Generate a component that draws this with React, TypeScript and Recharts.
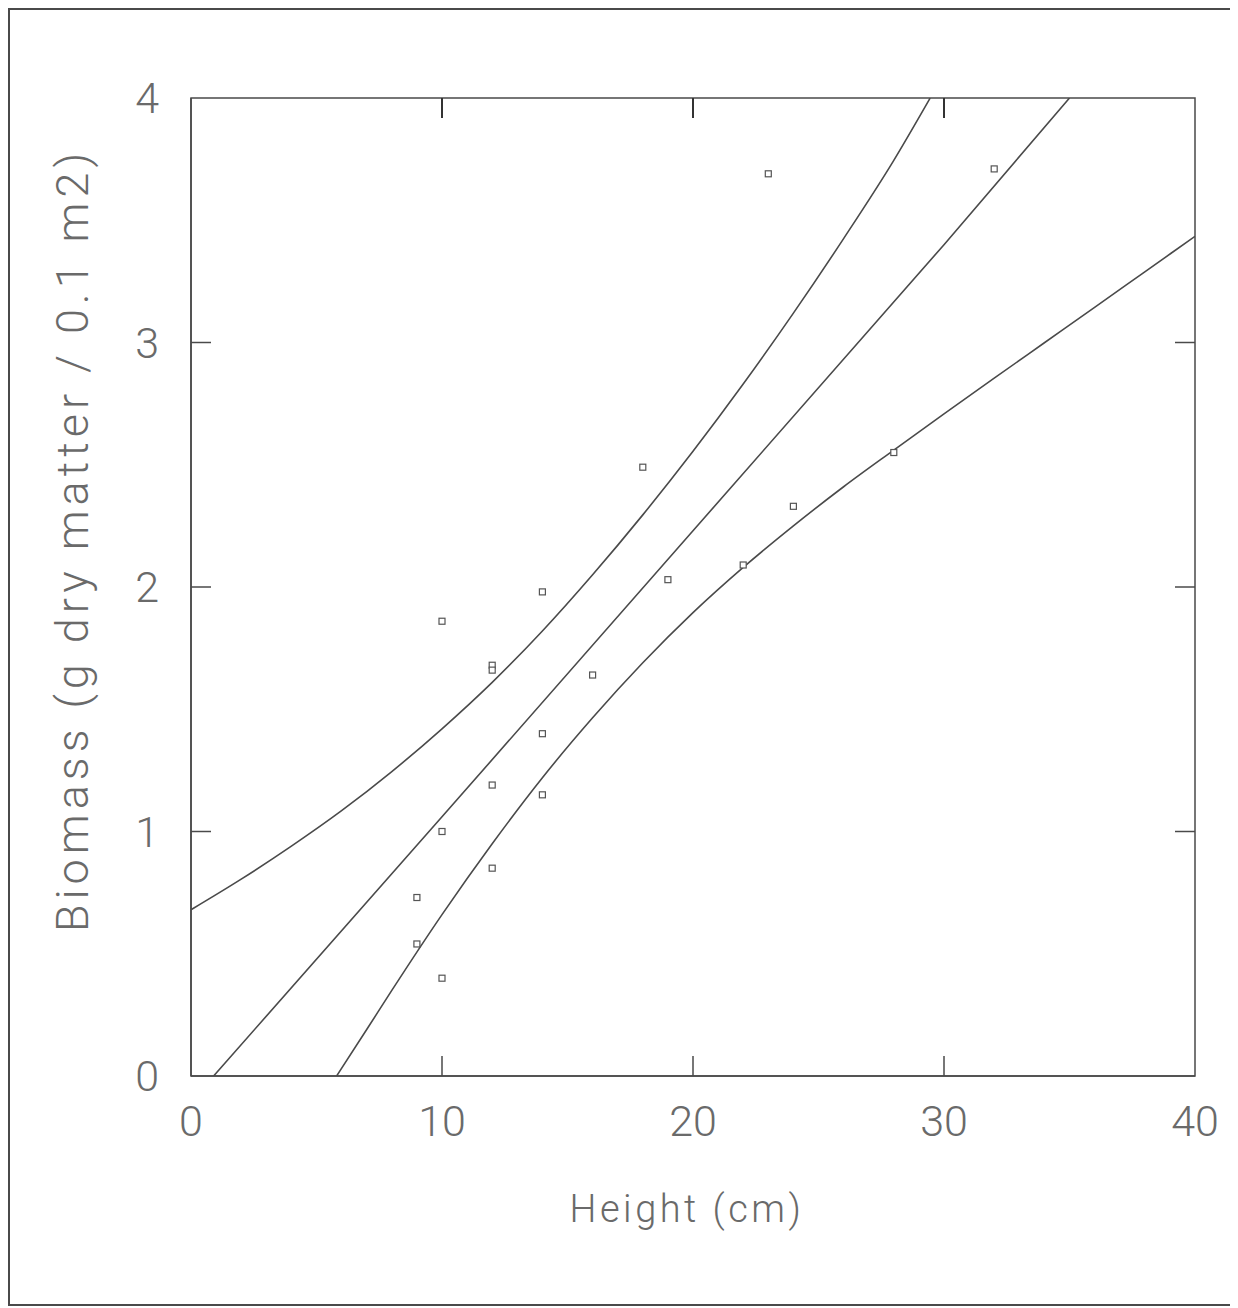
import { ScatterChart, Scatter, XAxis, YAxis, Label, ReferenceArea, ReferenceLine } from 'recharts';

// observed plots: height (cm) vs biomass (g dry matter / 0.1 m2)
const heights = [9, 9, 10, 10, 10, 12, 12, 12, 12, 14, 14, 14, 16, 18, 19, 22, 23, 24, 28, 32];
const biomass = [0.73, 0.54, 1.86, 1.0, 0.4, 1.68, 1.66, 1.19, 0.85, 1.98, 1.4, 1.15, 1.64, 2.49, 2.03, 2.09, 3.69, 2.33, 2.55, 3.71];

// fitted line
const fitX = [0.9, 10, 20, 30, 35];
const fitY = [0, 1.06, 2.23, 3.4, 4.0];

// upper band
const upperX = [0, 2, 4, 6, 8, 10, 12, 14, 16, 18, 20, 22, 24, 26, 28, 29.45];
const upperY = [0.68, 0.805, 0.94, 1.085, 1.245, 1.42, 1.61, 1.82, 2.05, 2.295, 2.555, 2.83, 3.12, 3.425, 3.745, 4.0];

// lower band
const lowerX = [5.8, 7, 8, 10, 12, 14, 16, 18, 20, 22, 24, 26, 28, 30, 32, 34, 36, 38, 40];
const lowerY = [0, 0.19, 0.35, 0.66, 0.95, 1.22, 1.465, 1.69, 1.895, 2.08, 2.25, 2.41, 2.56, 2.708, 2.854, 2.999, 3.144, 3.289, 3.434];

const xTicks = [0, 10, 20, 30, 40];
const yTicks = [0, 1, 2, 3, 4];
const innerXTicks = [10, 20, 30];

const toPts = (xs: number[], ys: number[]) => xs.map((x, i) => ({ x, y: ys[i] }));

const INK = '#4a4a4a';
const TEXT = '#6a6a6a';
const FONT = "Roboto, 'Open Sans', sans-serif";
const TICK_LEN = 20;

const BottomTick = (props: any) => {
  const { x, y, payload } = props;
  const v = payload.value;
  return (
    <g>
      {v > 0 && v < 40 && <line x1={x} y1={y} x2={x} y2={y - TICK_LEN} stroke={INK} strokeWidth={1.5} />}
      <text x={x} y={y + 60} textAnchor="middle" fill={TEXT} fontSize={43} fontWeight={300} fontFamily={FONT}>
        {v}
      </text>
    </g>
  );
};

const LeftTick = (props: any) => {
  const { x, y, payload } = props;
  const v = payload.value;
  return (
    <g>
      {v > 0 && v < 4 && <line x1={x} y1={y} x2={x + TICK_LEN} y2={y} stroke={INK} strokeWidth={1.5} />}
      <text x={x - 32} y={y + 15} textAnchor="end" fill={TEXT} fontSize={43} fontWeight={300} fontFamily={FONT}>
        {v}
      </text>
    </g>
  );
};

const RightTick = (props: any) => {
  const { x, y, payload } = props;
  const v = payload.value;
  if (v <= 0 || v >= 4) return <g />;
  return <line x1={x} y1={y} x2={x - TICK_LEN} y2={y} stroke={INK} strokeWidth={1.5} />;
};

// only the top stub of a vertical reference line: inward tick on the upper frame
const TopStub = (props: any) => {
  const { x1, y1, x2, y2 } = props;
  const top = Math.min(Number(y1), Number(y2));
  return <path d={`M${x1},${top}L${x2},${top + TICK_LEN}`} stroke="#333" strokeWidth={2} fill="none" />;
};

const SquareDot = (props: any) => {
  const { cx, cy } = props;
  return <rect x={cx - 3} y={cy - 3} width={6} height={6} fill="#fff" stroke="#555" strokeWidth={1.2} />;
};

const NoDot = () => <g />;

export default function App() {
  const points = toPts(heights, biomass);
  const fit = toPts(fitX, fitY);
  const upper = toPts(upperX, upperY);
  const lower = toPts(lowerX, lowerY);

  return (
    <div style={{ position: 'relative', width: 1227, height: 1298, background: '#fff' }}>
      <ScatterChart width={1227} height={1298} margin={{ top: 90, right: 39, bottom: 130, left: 0 }}>
        <XAxis
          xAxisId="b"
          type="number"
          dataKey="x"
          domain={[0, 40]}
          ticks={xTicks}
          allowDataOverflow
          height={100}
          tickSize={0}
          tickMargin={0}
          tickLine={false}
          axisLine={{ stroke: INK, strokeWidth: 1.5 }}
          tick={<BottomTick />}
        >
          <Label
            content={(p: any) => {
              const vb = p.viewBox;
              return (
                <text x={vb.x + vb.width / 2 - 6} y={vb.y + 146} textAnchor="middle" fill={TEXT} fontSize={38} fontWeight={300} fontFamily={FONT} letterSpacing={3.5}>
                  Height (cm)
                </text>
              );
            }}
          />
        </XAxis>
        <YAxis
          yAxisId="l"
          type="number"
          dataKey="y"
          domain={[0, 4]}
          ticks={yTicks}
          allowDataOverflow
          width={183}
          tickSize={0}
          tickMargin={0}
          tickLine={false}
          axisLine={{ stroke: INK, strokeWidth: 1.5 }}
          tick={<LeftTick />}
        >
          <Label
            content={(p: any) => {
              const vb = p.viewBox;
              const cx = 80;
              const cy = vb.y + vb.height / 2 - 47;
              return (
                <text x={cx} y={cy} transform={`rotate(-90 ${cx} ${cy})`} textAnchor="middle" fill={TEXT} fontSize={45} fontWeight={300} fontFamily={FONT} letterSpacing={5}>
                  Biomass (g dry matter / 0.1 m2)
                </text>
              );
            }}
          />
        </YAxis>
        <YAxis
          yAxisId="r"
          orientation="right"
          type="number"
          dataKey="y"
          domain={[0, 4]}
          ticks={yTicks}
          allowDataOverflow
          width={1}
          tickSize={0}
          tickMargin={0}
          tickLine={false}
          axisLine={false}
          tick={<RightTick />}
        />
        <ReferenceArea xAxisId="b" yAxisId="l" x1={0} x2={40} y1={0} y2={4} fill="none" stroke={INK} strokeWidth={1.5} />
        {innerXTicks.map((v) => (
          <ReferenceLine key={v} xAxisId="b" yAxisId="l" x={v} stroke={INK} shape={TopStub} />
        ))}
        <Scatter xAxisId="b" yAxisId="l" data={upper} line={{ stroke: INK, strokeWidth: 1.6 }} lineJointType="monotoneX" shape={<NoDot />} isAnimationActive={false} />
        <Scatter xAxisId="b" yAxisId="l" data={fit} line={{ stroke: INK, strokeWidth: 1.6 }} shape={<NoDot />} isAnimationActive={false} />
        <Scatter xAxisId="b" yAxisId="l" data={lower} line={{ stroke: INK, strokeWidth: 1.6 }} lineJointType="monotoneX" shape={<NoDot />} isAnimationActive={false} />
        <Scatter xAxisId="b" yAxisId="l" data={points} shape={<SquareDot />} isAnimationActive={false} />
      </ScatterChart>
      <div
        style={{
          position: 'absolute',
          left: 0,
          top: 0,
          width: 1227,
          height: 1298,
          boxSizing: 'border-box',
          border: `2px solid ${INK}`,
          pointerEvents: 'none',
        }}
      />
    </div>
  );
}
